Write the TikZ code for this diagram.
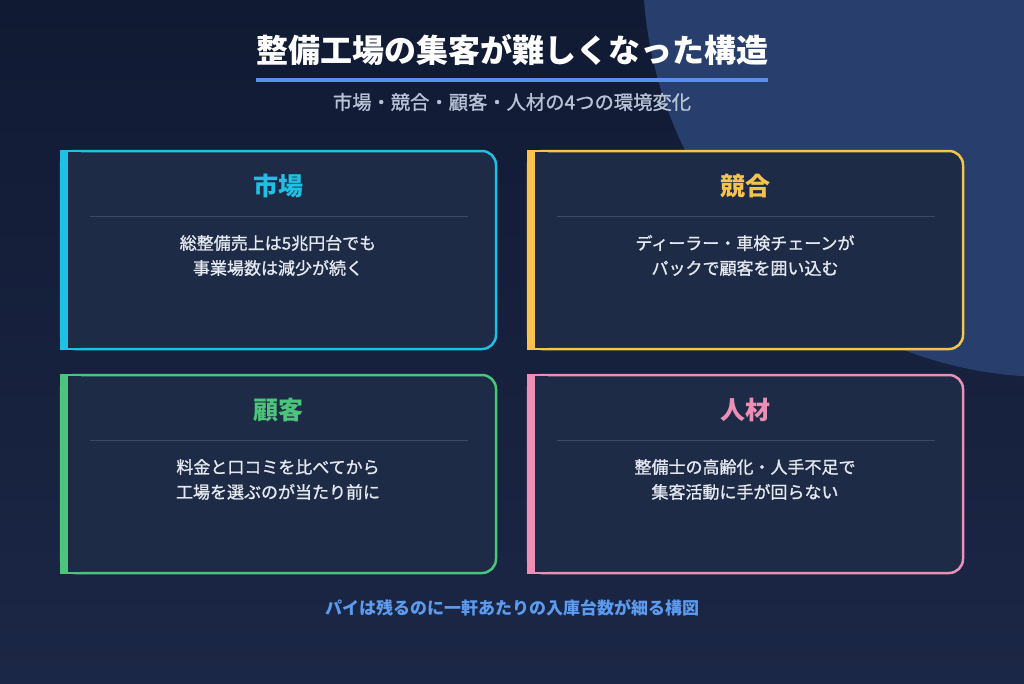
\documentclass[tikz,border=0pt]{standalone}
\usepackage{fontspec}
\setmainfont{Noto Sans CJK JP}
\newfontfamily\jpmed{Noto Sans CJK JP}[FakeBold=1.2]
\definecolor{bgtop}{HTML}{111A33}
\definecolor{bgbot}{HTML}{1B2746}
\definecolor{circ}{HTML}{283F6E}
\definecolor{cardfill}{HTML}{1E2B46}
\definecolor{divc}{HTML}{3A4966}
\definecolor{ccyan}{HTML}{1EC0E4}
\definecolor{cyel}{HTML}{F7C34D}
\definecolor{cgreen}{HTML}{4CC47C}
\definecolor{cpink}{HTML}{EC8FB4}
\definecolor{subc}{HTML}{B7C2D6}
\definecolor{uline}{HTML}{5B8FEE}
\definecolor{footc}{HTML}{5C9BEF}
\definecolor{bodyc}{HTML}{E4E8F0}
\tikzset{
  cardbox/.style={draw=#1, fill=cardfill, line width=2.5pt, rounded corners=14pt,
    minimum width=435pt, minimum height=198pt, inner sep=0pt, outer sep=0pt, anchor=north west},
  headtxt/.style={text=#1, font=\bfseries\fontsize{25}{30}\selectfont, inner sep=0pt},
  bodytxt/.style={text=bodyc, font=\jpmed\fontsize{17}{25}\selectfont, align=center, inner sep=0pt},
  divline/.style={draw=divc, line width=1pt},
}
\newcommand\squareleft[2]{%
  \fill[cardfill] (#1.north west) rectangle ([xshift=20pt]#1.south west);
  \draw[#2, line width=2.5pt] (#1.north west) -- ([xshift=20pt]#1.north west);
  \draw[#2, line width=2.5pt] (#1.south west) -- ([xshift=20pt]#1.south west);
  \fill[#2] ([xshift=-1.25pt,yshift=1.25pt]#1.north west) rectangle ([xshift=7pt,yshift=-1.25pt]#1.south west);
}
\begin{document}
\begin{tikzpicture}[x=1pt,y=-1pt]
\useasboundingbox (0,0) rectangle (1024,683);
\begin{scope}
\clip (0,0) rectangle (1024,683);
\shade[top color=bgtop, bottom color=bgbot] (0,0) rectangle (1024,683);
\fill[circ] (1050,-30) circle[radius=407];
\end{scope}

\node[text=white, font=\bfseries\fontsize{32}{38}\selectfont, inner sep=0pt] (title) at (512,50) {整備工場の集客が難しくなった構造};
\draw[uline, line width=4pt] (256,80) -- (768,80);
\node[text=subc, font=\jpmed\fontsize{19.3}{22}\selectfont, inner sep=0pt] (sub) at (512,102) {市場・競合・顧客・人材の4つの環境変化};

% cards
\node[cardbox=ccyan] (c1) at (61,151) {};
\squareleft{c1}{ccyan}
\node[cardbox=cyel] (c2) at (528,151) {};
\squareleft{c2}{cyel}
\node[cardbox=cgreen] (c3) at (61,375) {};
\squareleft{c3}{cgreen}
\node[cardbox=cpink] (c4) at (528,375) {};
\squareleft{c4}{cpink}

\node[headtxt=ccyan] (h1) at (278,186) {市場};
\node[headtxt=cyel] (h2) at (745,186) {競合};
\node[headtxt=cgreen] (h3) at (278,410) {顧客};
\node[headtxt=cpink] (h4) at (745,410) {人材};

\draw[divline] (90,216) -- (468,216);
\draw[divline] (557,216) -- (935,216);
\draw[divline] (90,440) -- (468,440);
\draw[divline] (557,440) -- (935,440);

\node[bodytxt] (b1) at (278,255.5) {総整備売上は5兆円台でも\\事業場数は減少が続く};
\node[bodytxt] (b2) at (745,255.5) {ディーラー・車検チェーンが\\パックで顧客を囲い込む};
\node[bodytxt] (b3) at (278,479.5) {料金と口コミを比べてから\\工場を選ぶのが当たり前に};
\node[bodytxt] (b4) at (745,479.5) {整備士の高齢化・人手不足で\\集客活動に手が回らない};

\node[text=footc, font=\bfseries\fontsize{17}{20}\selectfont, inner sep=0pt] (foot) at (512,608) {パイは残るのに一軒あたりの入庫台数が細る構図};
\end{tikzpicture}
\end{document}
